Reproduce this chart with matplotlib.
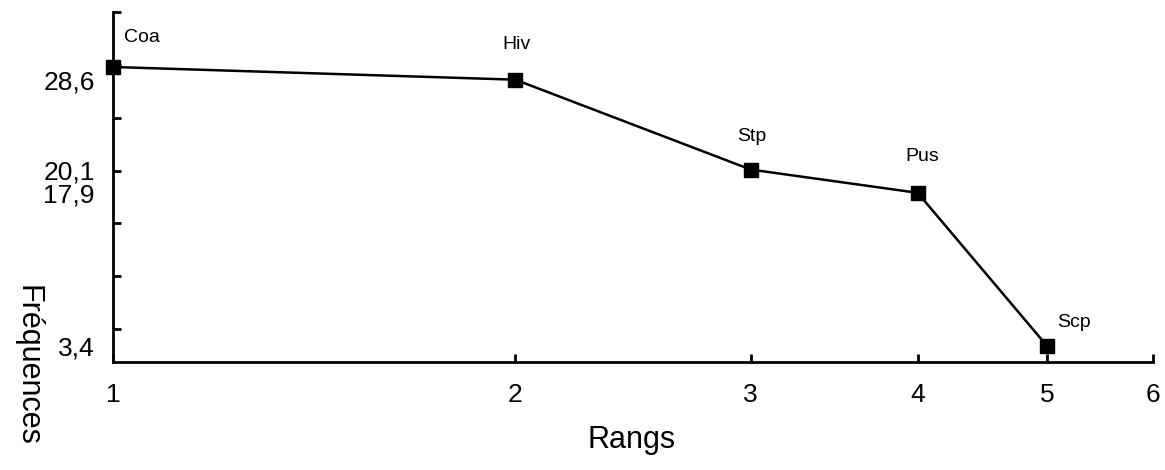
import numpy as np
import matplotlib
matplotlib.use("Agg")
import matplotlib.pyplot as plt

plt.rcParams['font.family'] = ['Liberation Sans', 'DejaVu Sans']

# rank / frequency data
rangs = [1, 2, 3, 4, 5]
freqs = [29.8, 28.6, 20.1, 17.9, 3.4]
noms = ['Coa', 'Hiv', 'Stp', 'Pus', 'Scp']
ytick_vals = [3.4, 17.9, 20.1, 28.6]
ytick_txt = ['3,4', '17,9', '20,1', '28,6']
xtick_vals = [1, 2, 3, 4, 5, 6]

# label offsets in points (dx, dy)
offsets = [(21, 21), (1, 25), (1, 24), (3, 26), (19, 17)]

fig = plt.figure(figsize=(11.65, 4.7), dpi=100)
ax = fig.add_axes([113/1165, 1 - 362/470, (1153 - 113)/1165, 350/470])

ax.plot(rangs, freqs, color='black', lw=1.8, marker='s', ms=9.5,
        clip_on=False, zorder=3)

for x, y, n, (dx, dy) in zip(rangs, freqs, noms, offsets):
    ax.annotate(n, (x, y), xytext=(dx, dy), textcoords='offset points',
                ha='center', va='center', fontsize=14)

ax.set_xscale('log')
ax.set_xlim(1, 6)
ax.set_ylim(1.9, 35)
ax.set_xticks(xtick_vals)
ax.set_xticklabels([str(v) for v in xtick_vals])
ax.xaxis.set_minor_locator(matplotlib.ticker.NullLocator())
ax.tick_params(axis='x', direction='in', length=6, width=2, labelsize=19, pad=15)
ax.xaxis.get_major_ticks()[-1].tick1line.set_color('#cccccc')

ax.set_yticks(ytick_vals)
ax.set_yticklabels(ytick_txt)
ax.set_yticks(np.arange(5, 36, 5), minor=True)
ax.tick_params(axis='y', which='major', length=0, labelsize=19, pad=13)
ax.tick_params(axis='y', which='minor', direction='in', length=6, width=2)

for s in ['top', 'right']:
    ax.spines[s].set_visible(False)
for s in ['left', 'bottom']:
    ax.spines[s].set_linewidth(2)

fig.text(632/1165, 1 - 440/470, 'Rangs', ha='center', va='center', fontsize=22)
fig.text(27/1165, 1 - 365/470, 'Fréquences', ha='center', va='center',
         fontsize=22, rotation=-90)

fig.savefig('out.png', dpi=100)
